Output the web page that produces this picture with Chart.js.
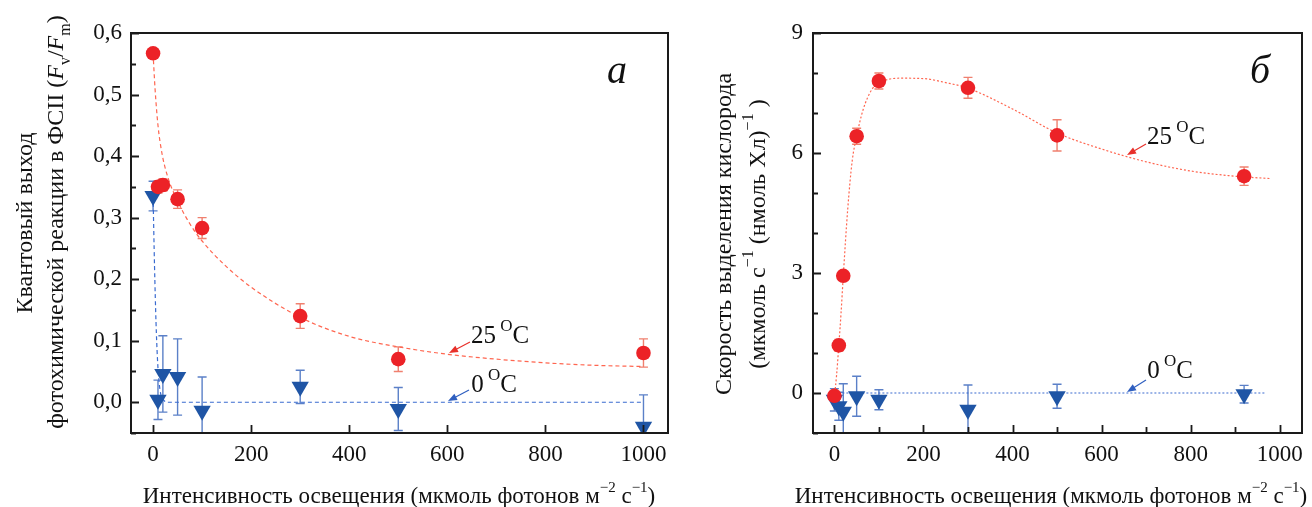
<!DOCTYPE html>
<html>
<head>
<meta charset="utf-8">
<script src="https://cdn.jsdelivr.net/npm/chart.js@4.4.1/dist/chart.umd.min.js"></script>
<style>
  html, body { margin: 0; padding: 0; background: #fff; overflow: hidden; }
  #wrap { position: relative; width: 1312px; height: 507px; }
  canvas { position: absolute; top: 0; }
  #cA { left: 0; }
  #cB { left: 690px; }
</style>
</head>
<body>
<div id="wrap">
  <canvas id="cA" width="690" height="507"></canvas>
  <canvas id="cB" width="622" height="507"></canvas>
</div>
<script>
// panel а: quantum yield Fv/Fm vs light
const aRedX = [0, 10, 20, 50, 100, 300, 500, 1000];
const aRedY = [0.567, 0.35, 0.353, 0.33, 0.283, 0.14, 0.07, 0.08];
const aRedErr = [0, 0.01, 0.01, 0.015, 0.017, 0.02, 0.02, 0.023];
const aBlueX = [0, 10, 20, 50, 100, 300, 500, 1000];
const aBlueY = [0.335, 0.004, 0.046, 0.041, -0.014, 0.025, -0.011, -0.04];
const aBlueErr = [0.024, 0.032, 0.062, 0.062, 0.055, 0.027, 0.035, 0.052];
// fitted curves
const aFitRedX = [0, 4, 10, 18, 30, 50, 75, 100, 150, 200, 300, 400, 500, 600, 700, 800, 900, 1000];
const aFitRedY = [0.567, 0.51, 0.45, 0.405, 0.366, 0.327, 0.29, 0.262, 0.22, 0.187, 0.138, 0.107, 0.09, 0.078, 0.07, 0.064, 0.06, 0.058];
const aFitBlueX = [0, 3, 6, 9, 12, 16, 22, 30, 1000];
const aFitBlueY = [0.335, 0.22, 0.13, 0.07, 0.035, 0.012, 0.003, 0, 0];
const aXTicks = [0, 200, 400, 600, 800, 1000];
const aYTicks = [0, 0.1, 0.2, 0.3, 0.4, 0.5, 0.6];

// panel б: O2 evolution rate vs light
const bRedX = [0, 10, 20, 50, 100, 300, 500, 920];
const bRedY = [-0.07, 1.19, 2.93, 6.42, 7.8, 7.63, 6.44, 5.42];
const bRedErr = [0, 0.15, 0.1, 0.2, 0.2, 0.26, 0.39, 0.23];
const bBlueX = [0, 10, 20, 50, 100, 300, 500, 920];
const bBlueY = [-0.17, -0.33, -0.47, -0.08, -0.17, -0.42, -0.08, -0.03];
const bBlueErr = [0.28, 0.35, 0.7, 0.5, 0.25, 0.62, 0.3, 0.22];
const bFitRedX = [0, 5, 10, 15, 20, 30, 40, 50, 65, 85, 110, 150, 200, 250, 300, 400, 500, 600, 700, 800, 900, 980];
const bFitRedY = [-0.1, 0.45, 1.2, 2.0, 2.93, 4.6, 5.8, 6.42, 7.1, 7.6, 7.8, 7.87, 7.86, 7.76, 7.62, 7.1, 6.5, 6.1, 5.78, 5.55, 5.42, 5.36];
const bFitBlueX = [0, 970];
const bFitBlueY = [0, 0];
const bXTicks = [0, 200, 400, 600, 800, 1000];
const bYTicks = [0, 3, 6, 9];

const FONT = "'Liberation Serif', 'Times New Roman', serif";
const RED = '#ec2227', BLUE = '#1f55a5';
const RED_ERR = '#f0806f', BLUE_ERR = '#5b80c8';
const RED_FIT = '#ff6650', BLUE_FIT = '#3a6bd0';

function pts(xs, ys) { return xs.map((x, i) => ({ x, y: ys[i] })); }

// draws text pieces with sup/sub, centred on x, baseline y
function rich(ctx, parts, x, y, size, rotated) {
  ctx.save();
  ctx.translate(x, y);
  if (rotated) ctx.rotate(-Math.PI / 2);
  const fontOf = p => (p.i ? 'italic ' : '') + (p.s ? Math.round(size * 0.66) : size) + 'px ' + FONT;
  let w = 0;
  parts.forEach(p => { ctx.font = fontOf(p); w += ctx.measureText(p.t).width; });
  let pos = -w / 2;
  ctx.textAlign = 'left';
  ctx.textBaseline = 'alphabetic';
  parts.forEach(p => {
    ctx.font = fontOf(p);
    const dy = p.s === 'sup' ? -size * 0.48 : p.s === 'sub' ? size * 0.28 : 0;
    ctx.fillText(p.t, pos, dy);
    pos += ctx.measureText(p.t).width;
  });
  ctx.restore();
}

function arrow(ctx, x1, y1, x2, y2, color) {
  const ang = Math.atan2(y2 - y1, x2 - x1);
  ctx.save();
  ctx.strokeStyle = color; ctx.fillStyle = color; ctx.lineWidth = 1.2;
  ctx.beginPath(); ctx.moveTo(x1, y1); ctx.lineTo(x2 - 6 * Math.cos(ang), y2 - 6 * Math.sin(ang)); ctx.stroke();
  ctx.beginPath();
  ctx.moveTo(x2, y2);
  ctx.lineTo(x2 - 9 * Math.cos(ang) + 3.5 * Math.sin(ang), y2 - 9 * Math.sin(ang) - 3.5 * Math.cos(ang));
  ctx.lineTo(x2 - 9 * Math.cos(ang) - 3.5 * Math.sin(ang), y2 - 9 * Math.sin(ang) + 3.5 * Math.cos(ang));
  ctx.closePath(); ctx.fill();
  ctx.restore();
}

const errorBars = {
  id: 'errorBars',
  beforeDatasetsDraw(chart) {
    const { ctx, chartArea: a, scales: { x, y } } = chart;
    ctx.save();
    ctx.beginPath(); ctx.rect(a.left, a.top, a.right - a.left, a.bottom - a.top); ctx.clip();
    chart.data.datasets.forEach(ds => {
      if (!ds.errors) return;
      ctx.strokeStyle = ds.errColor; ctx.lineWidth = 1.4;
      ds.data.forEach((p, i) => {
        const e = ds.errors[i];
        if (!e) return;
        const px = x.getPixelForValue(p.x);
        const t = y.getPixelForValue(p.y + e), b = y.getPixelForValue(p.y - e);
        ctx.beginPath();
        ctx.moveTo(px, t); ctx.lineTo(px, b);
        ctx.moveTo(px - 4.5, t); ctx.lineTo(px + 4.5, t);
        ctx.moveTo(px - 4.5, b); ctx.lineTo(px + 4.5, b);
        ctx.stroke();
      });
    });
    ctx.restore();
  }
};

// box round the plot and inward tick marks
const frame = {
  id: 'frame',
  afterDraw(chart, args, o) {
    const { ctx, chartArea: a, scales: { x, y } } = chart;
    ctx.save();
    ctx.strokeStyle = '#1a1a1a';
    ctx.lineWidth = 1.8;
    ctx.beginPath();
    for (let n = Math.ceil(x.min / o.xMinor); n * o.xMinor <= x.max; n++) {
      const v = n * o.xMinor;
      const major = Math.abs(v / o.xMajor - Math.round(v / o.xMajor)) < 1e-6;
      const px = Math.round(x.getPixelForValue(v)) + 0.5;
      ctx.moveTo(px, a.bottom); ctx.lineTo(px, a.bottom - (major ? 8 : 6));
    }
    for (let n = Math.ceil(y.min / o.yMinor - 1e-6); n * o.yMinor <= y.max + 1e-9; n++) {
      const v = n * o.yMinor;
      const major = Math.abs(v / o.yMajor - Math.round(v / o.yMajor)) < 1e-6;
      const py = Math.round(y.getPixelForValue(v)) + 0.5;
      ctx.moveTo(a.left, py); ctx.lineTo(a.left + (major ? 8 : 5), py);
    }
    ctx.stroke();
    ctx.lineWidth = 2;
    ctx.strokeRect(a.left, a.top, a.right - a.left, a.bottom - a.top);
    ctx.restore();
  }
};

const texts = {
  id: 'texts',
  afterDraw(chart, args, o) {
    const ctx = chart.ctx;
    ctx.save();
    ctx.fillStyle = '#111';
    o.titles.forEach(t => rich(ctx, t.parts, t.x, t.y, t.size, t.rot));
    o.notes.forEach(n => {
      arrow(ctx, n.ax1, n.ay1, n.ax2, n.ay2, n.color);
      ctx.fillStyle = '#111';
      rich(ctx, n.parts, n.x, n.y, 25, false);
    });
    ctx.font = 'italic 40px ' + FONT;
    ctx.textAlign = 'center';
    ctx.textBaseline = 'alphabetic';
    ctx.fillText(o.letter.t, o.letter.x, o.letter.y);
    ctx.restore();
  }
};

function makeChart(el, cfg) {
  return new Chart(el, {
    type: 'scatter',
    data: {
      datasets: [
        { data: pts(cfg.redX, cfg.redY), errors: cfg.redErr, errColor: RED_ERR,
          pointStyle: 'circle', pointRadius: 7.3, backgroundColor: RED, borderColor: RED, borderWidth: 0, showLine: false },
        { data: pts(cfg.blueX, cfg.blueY), errors: cfg.blueErr, errColor: BLUE_ERR,
          pointStyle: 'triangle', rotation: 180, pointRadius: 10, backgroundColor: BLUE, borderColor: BLUE, borderWidth: 0, showLine: false },
        { data: pts(cfg.fitRX, cfg.fitRY), showLine: true, pointRadius: 0, borderColor: RED_FIT, borderWidth: 1.2,
          borderDash: cfg.dash, cubicInterpolationMode: 'monotone', fill: false },
        { data: pts(cfg.fitBX, cfg.fitBY), showLine: true, pointRadius: 0, borderColor: BLUE_FIT, borderWidth: 1.2,
          borderDash: cfg.dash, cubicInterpolationMode: 'monotone', fill: false }
      ]
    },
    options: {
      responsive: false,
      animation: false,
      layout: { padding: { top: 33, right: cfg.padRight, left: 0, bottom: 0 } },
      plugins: {
        legend: { display: false },
        tooltip: { enabled: false },
        frame: cfg.frame,
        texts: cfg.texts
      },
      scales: {
        x: {
          type: 'linear', min: cfg.xMin, max: cfg.xMax,
          grid: { display: false, drawTicks: false }, border: { display: false },
          afterBuildTicks: s => { s.ticks = cfg.xTicks.map(v => ({ value: v })); },
          afterFit: s => { s.height = 74; },
          ticks: { padding: 8, maxRotation: 0, autoSkip: false, color: '#111', font: { family: FONT, size: 23 },
                   callback: v => String(v) }
        },
        y: {
          type: 'linear', min: cfg.yMin, max: cfg.yMax,
          grid: { display: false, drawTicks: false }, border: { display: false },
          afterBuildTicks: s => { s.ticks = cfg.yTicks.map(v => ({ value: v })); },
          afterFit: s => { s.width = cfg.yWidth; },
          ticks: { padding: cfg.yPad, color: '#111', font: { family: FONT, size: 23 }, callback: cfg.fmt }
        }
      }
    },
    plugins: [errorBars, frame, texts]
  });
}

const xTitle = [
  { t: 'Интенсивность освещения (мкмоль фотонов м' }, { t: '−2', s: 'sup' },
  { t: ' с' }, { t: '−1', s: 'sup' }, { t: ')' }
];

makeChart(document.getElementById('cA'), {
  redX: aRedX, redY: aRedY, redErr: aRedErr,
  blueX: aBlueX, blueY: aBlueY, blueErr: aBlueErr,
  fitRX: aFitRedX, fitRY: aFitRedY, fitBX: aFitBlueX, fitBY: aFitBlueY,
  dash: [4, 3],
  xMin: -45, xMax: 1050, yMin: -0.05, yMax: 0.6,
  xTicks: aXTicks, yTicks: aYTicks,
  yWidth: 131, yPad: 9, padRight: 22,
  fmt: v => v.toFixed(1).replace('.', ','),
  frame: { xMinor: 200, xMajor: 200, yMinor: 0.05, yMajor: 0.1 },
  texts: {
    titles: [
      { parts: xTitle, x: 399, y: 503, size: 23 },
      { parts: [{ t: 'Квантовый выход' }], x: 32, y: 223, size: 24, rot: true },
      { parts: [{ t: 'фотохимической реакции в ФСII (' }, { t: 'F', i: true }, { t: 'v', s: 'sub' },
                { t: '/' }, { t: 'F', i: true }, { t: 'm', s: 'sub' }, { t: ')' }],
        x: 63, y: 222, size: 24, rot: true }
    ],
    notes: [
      { parts: [{ t: '25' }, { t: ' O', s: 'sup' }, { t: 'C' }], x: 500, y: 343,
        ax1: 470, ay1: 342, ax2: 449, ay2: 353, color: '#e8302a' },
      { parts: [{ t: '0' }, { t: ' O', s: 'sup' }, { t: 'C' }], x: 494, y: 392,
        ax1: 469, ay1: 390, ax2: 448, ay2: 401, color: '#2f5fc0' }
    ],
    letter: { t: 'а', x: 617, y: 83 }
  }
});

makeChart(document.getElementById('cB'), {
  redX: bRedX, redY: bRedY, redErr: bRedErr,
  blueX: bBlueX, blueY: bBlueY, blueErr: bBlueErr,
  fitRX: bFitRedX, fitRY: bFitRedY, fitBX: bFitBlueX, fitBY: bFitBlueY,
  dash: [2, 2],
  xMin: -48, xMax: 1050, yMin: -1, yMax: 9,
  xTicks: bXTicks, yTicks: bYTicks,
  yWidth: 123, yPad: 10, padRight: 8,
  fmt: v => String(v),
  frame: { xMinor: 100, xMajor: 200, yMinor: 1, yMajor: 3 },
  texts: {
    titles: [
      { parts: xTitle, x: 361, y: 503, size: 23 },
      { parts: [{ t: 'Скорость выделения кислорода' }], x: 41, y: 234, size: 24, rot: true },
      { parts: [{ t: '(мкмоль с' }, { t: '−1', s: 'sup' }, { t: ' (нмоль Хл)' }, { t: '−1', s: 'sup' }, { t: ' )' }],
        x: 75, y: 234, size: 24, rot: true }
    ],
    notes: [
      { parts: [{ t: '25' }, { t: ' O', s: 'sup' }, { t: 'C' }], x: 486, y: 144,
        ax1: 456, ay1: 144, ax2: 437, ay2: 155, color: '#e8302a' },
      { parts: [{ t: '0' }, { t: ' O', s: 'sup' }, { t: 'C' }], x: 480, y: 378,
        ax1: 456, ay1: 380, ax2: 437, ay2: 392, color: '#2f5fc0' }
    ],
    letter: { t: 'б', x: 570, y: 83 }
  }
});
</script>
</body>
</html>
